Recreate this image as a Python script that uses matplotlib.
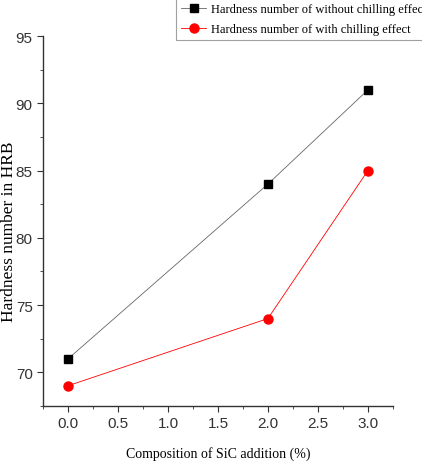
import matplotlib.pyplot as plt
from matplotlib.ticker import MultipleLocator

sic = [0.0, 2.0, 3.0]
without_chill = [71, 84, 91]
with_chill = [69, 74, 85]
labels = ['Hardness number of without chilling effect',
          'Hardness number of with chilling effect']

fig = plt.figure(figsize=(4.22, 4.64), dpi=100)
ax = fig.add_axes([0.102, 0.123, 0.829, 0.797])

ax.plot(sic, without_chill, color='#666666', lw=0.6, marker='s', ms=5.5,
        mfc='black', mec='black', label=labels[0])
ax.plot(sic, with_chill, color='red', lw=0.6, marker='o', ms=6.5,
        mfc='red', mec='red', label=labels[1])

ax.set_xlim(-0.25, 3.25)
ax.set_ylim(67.5, 95)
ax.xaxis.set_major_locator(MultipleLocator(0.5))
ax.xaxis.set_minor_locator(MultipleLocator(0.25))
ax.yaxis.set_major_locator(MultipleLocator(5))
ax.yaxis.set_minor_locator(MultipleLocator(2.5))
ax.spines['top'].set_visible(False)
ax.spines['right'].set_visible(False)
for s in ('left', 'bottom'):
    ax.spines[s].set_color('#333333')
    ax.spines[s].set_linewidth(1.0)
ax.tick_params(which='both', direction='out', colors='#333333', labelsize=11)
ax.tick_params(which='major', length=4, pad=3.5)
ax.tick_params(which='minor', length=2.5)
ax.set_xticks([0, 0.5, 1, 1.5, 2, 2.5, 3])
ax.set_xticklabels(['0.0', '0.5', '1.0', '1.5', '2.0', '2.5', '3.0'], family='Liberation Sans')
for t in ax.get_yticklabels():
    t.set_family('Liberation Sans')

ax.set_xlabel('Composition of SiC addition (%)', family='Liberation Serif', fontsize=10, labelpad=11)
ax.set_ylabel('Hardness number in HRB', family='Liberation Serif', fontsize=12.5)
ax.yaxis.set_label_coords(-0.075, 0.473)

leg = fig.legend(loc='upper left', bbox_to_anchor=(170/422, 1.015), frameon=True,
                 fancybox=False, edgecolor='#888888', prop={'family': 'Liberation Serif', 'size': 9},
                 handlelength=2.0, handletextpad=0.35, borderpad=0.4, labelspacing=0.65)
leg.get_frame().set_linewidth(0.8)

fig.savefig('out.png', dpi=100)
